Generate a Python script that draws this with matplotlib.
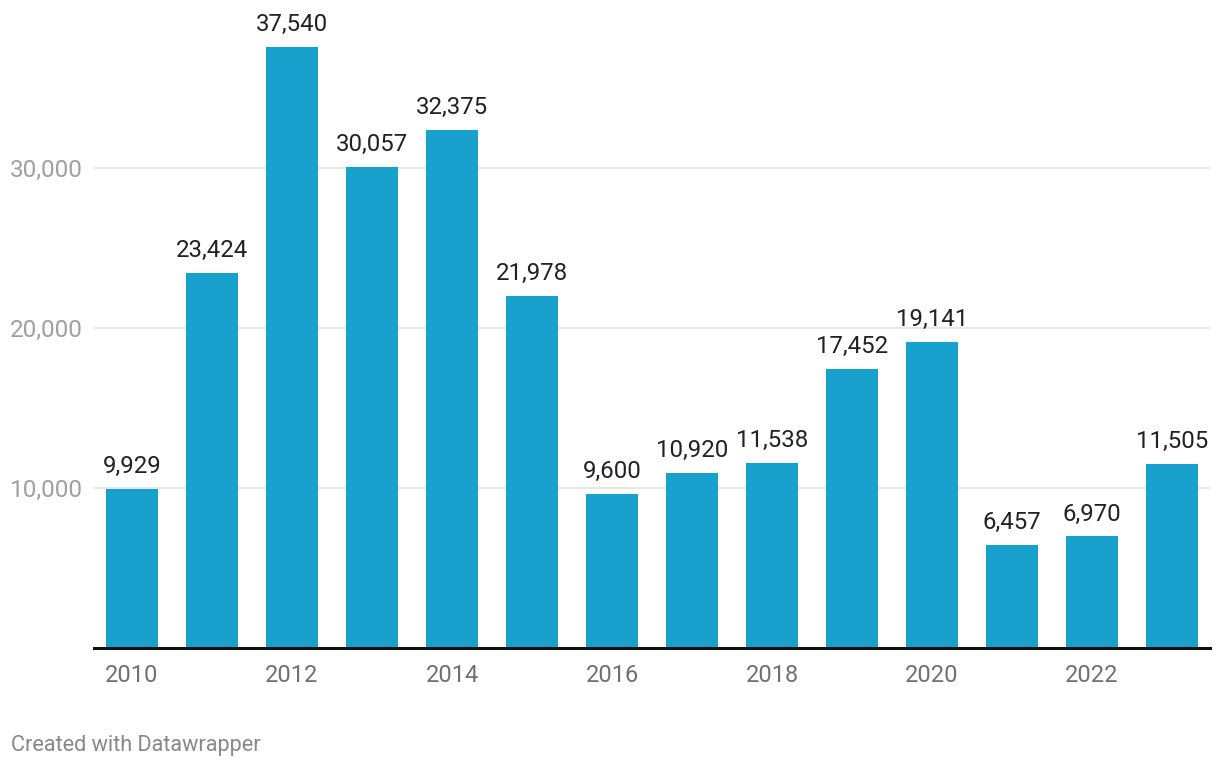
import matplotlib
matplotlib.use("Agg")
import matplotlib.pyplot as plt

years = [2010, 2011, 2012, 2013, 2014, 2015, 2016, 2017, 2018, 2019, 2020, 2021, 2022, 2023]
values = [9929, 23424, 37540, 30057, 32375, 21978, 9600, 10920, 11538, 17452, 19141, 6457, 6970, 11505]
yticks = [10000, 20000, 30000]
xtick_years = [2010, 2012, 2014, 2016, 2018, 2020, 2022]

plt.rcParams['font.family'] = ['Roboto', 'DejaVu Sans']

W, H = 1220, 770
fig = plt.figure(figsize=(W / 100, H / 100), dpi=100)
left, right, bottom, top = 94, 1210, 648, 8
ax = fig.add_axes([left / W, (H - bottom) / H, (right - left) / W, (bottom - top) / H])

x = list(range(len(years)))
ax.bar(x, values, width=0.65, color='#18a1cd', zorder=2)
ax.set_xlim(-0.475, len(years) - 1 + 0.475)
ax.set_ylim(0, 40000)

for xi, v in zip(x, values):
    ax.annotate(f"{v:,}", (xi, v), xytext=(0, 11.5), textcoords='offset points',
                ha='center', va='baseline', fontsize=17.3, color='#222222')

ax.set_yticks(yticks)
ax.set_yticklabels([f"{t:,}" for t in yticks])
ax.tick_params(axis='y', length=0, pad=8, labelsize=17.5, labelcolor='#a0a0a0')
ax.grid(axis='y', color='#e3e3e3', linewidth=1.3, zorder=0)

ax.set_xticks([years.index(y) for y in xtick_years])
ax.set_xticklabels([str(y) for y in xtick_years])
ax.tick_params(axis='x', length=0, pad=11.5, labelsize=17, labelcolor='#707070')

for s in ['top', 'right', 'left']:
    ax.spines[s].set_visible(False)
ax.spines['bottom'].set_color('#111111')
ax.spines['bottom'].set_linewidth(2.2)
ax.spines['bottom'].set_zorder(3)

fig.text(11 / W, 1 - 746 / H, "Created with Datawrapper", fontsize=15.6, color='#888888',
         ha='left', va='center')

fig.savefig("out.png", dpi=100)
